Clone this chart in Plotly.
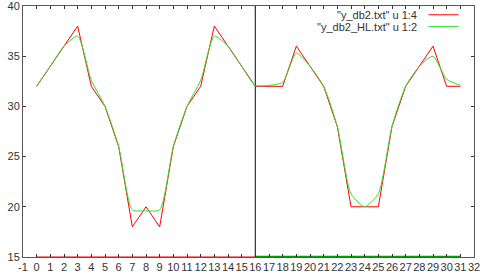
import plotly.graph_objects as go

x_vals = list(range(0, 32))
red_vals = [32, 34, 36, 38, 32, 30, 26, 18, 20, 18, 26, 30, 32, 38, 36, 34,
            32, 32, 32, 36, 34, 32, 28, 20, 20, 20, 28, 32, 34, 36, 32, 32]
green_vals = [32, 34, 36, 37, 32.6, 30, 26, 19.7, 19.6, 19.7, 26, 30, 32.6, 37, 36, 34,
              32.1, 32.1, 32.4, 35.3, 34, 32, 28, 21.3, 20, 21.3, 28, 32, 34, 35, 32.7, 32.1]
red_base_x = [0, 16]
green_base_x = [16, 31]
base_y = [15, 15]
marker_x = [16, 16]
marker_y = [15, 40]
legend_labels = ['"y_db2.txt" u 1:4', '"y_db2_HL.txt" u 1:2']
x_ticks = list(range(-1, 33))
y_ticks = [15, 20, 25, 30, 35, 40]

fig = go.Figure()
fig.add_trace(go.Scatter(x=red_base_x, y=base_y, mode="lines",
                         line=dict(color="#ff0000", width=1), showlegend=False))
fig.add_trace(go.Scatter(x=green_base_x, y=base_y, mode="lines",
                         line=dict(color="#00a000", width=2.5), showlegend=False))
fig.add_trace(go.Scatter(x=marker_x, y=marker_y, mode="lines",
                         line=dict(color="#303030", width=1.2), showlegend=False))
fig.add_trace(go.Scatter(x=x_vals, y=red_vals, mode="lines", name=legend_labels[0],
                         line=dict(color="#ff0000", width=1), showlegend=False))
fig.add_trace(go.Scatter(x=x_vals, y=green_vals, mode="lines", name=legend_labels[1],
                         line=dict(color="#33dd33", width=1, shape="spline", smoothing=0.6),
                         showlegend=False))

font = dict(family="Liberation Sans, Arial, sans-serif", size=11, color="#333333")

# legend mimic (gnuplot style: text right-aligned, sample on the right)
leg_rows = [0.965, 0.918]
leg_colors = ["#ff0000", "#33dd33"]
for lab, yy, col in zip(legend_labels, leg_rows, leg_colors):
    fig.add_annotation(x=0.877, y=yy, xref="paper", yref="paper", text=lab,
                       showarrow=False, xanchor="right", yanchor="middle", font=font)
    fig.add_shape(type="line", xref="paper", yref="paper", x0=0.899, x1=0.966,
                  y0=yy, y1=yy, line=dict(color=col, width=1))

axis_common = dict(showgrid=False, zeroline=False, showline=True, linecolor="#555555",
                   linewidth=1, mirror="ticks", ticks="inside", ticklen=3,
                   tickcolor="#333333", tickfont=font, automargin=False,
                   ticklabeloverflow="allow")
fig.update_xaxes(range=[-1, 32], tickvals=x_ticks, ticktext=[str(v) for v in x_ticks],
                 tickangle=0, **axis_common)
fig.update_yaxes(range=[14.999, 40.001], tickvals=y_ticks, **axis_common)

fig.update_layout(width=484, height=276, margin=dict(l=23, r=10, t=6, b=19),
                  plot_bgcolor="white", paper_bgcolor="white", showlegend=False)

fig.write_html("out.html", config={"displayModeBar": False},
               post_script="document.body.style.margin='0';document.body.style.overflow='hidden';")
